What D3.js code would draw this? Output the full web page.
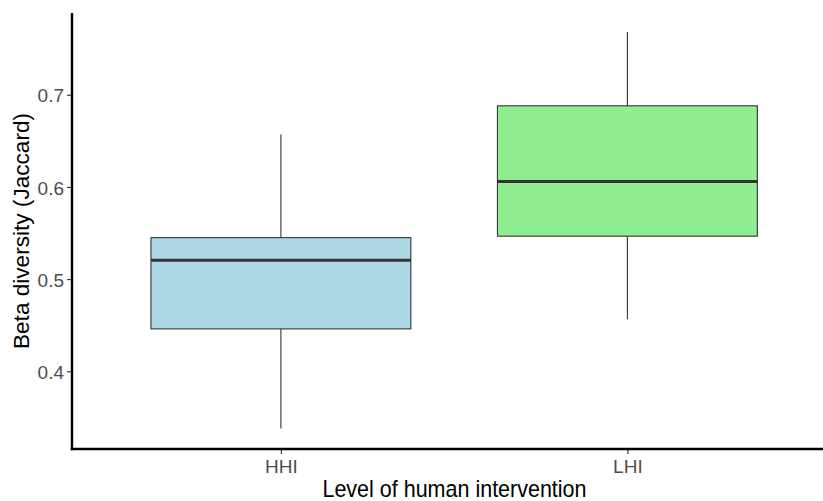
<!DOCTYPE html>
<html>
<head>
<meta charset="utf-8">
<script src="https://cdn.jsdelivr.net/npm/d3@7"></script>
<style>
  html, body { margin: 0; padding: 0; background: #fff; }
  svg { display: block; }
  text { font-family: "Liberation Sans", Arial, sans-serif; }
</style>
</head>
<body>
<svg id="chart" width="823" height="501"></svg>
<script>
// Data
const categories = ["HHI", "LHI"];
const whiskerLow = [0.338, 0.4565];
const q1 = [0.446, 0.5466];
const median = [0.5205, 0.606];
const q3 = [0.545, 0.688];
const whiskerHigh = [0.657, 0.768];
const fills = ["#ADD8E6", "#90EE90"];
const yTicks = [0.4, 0.5, 0.6, 0.7];

(function () {
const pLeft = 72, pTop = 13, pBottom = 449;
const scaleLeft = 73, scaleRight = 835.3;

const svg = d3.select("#chart");

const x = d3.scaleLinear().domain([0.4, categories.length + 0.6]).range([scaleLeft, scaleRight]);
const y = d3.scaleLinear().domain([0.3157, 0.7887]).range([pBottom, pTop]);
const unit = x(2) - x(1);
const boxW = 0.75 * unit;

const data = categories.map((c, i) => ({
  c, i, lo: whiskerLow[i], q1: q1[i], med: median[i], q3: q3[i], hi: whiskerHigh[i], fill: fills[i]
}));

const g = svg.append("g");
const groups = g.selectAll("g.box").data(data).enter().append("g").attr("class", "box");

// whiskers
groups.append("line")
  .attr("x1", d => x(d.i + 1)).attr("x2", d => x(d.i + 1))
  .attr("y1", d => y(d.hi)).attr("y2", d => y(d.q3))
  .attr("stroke", "#333333").attr("stroke-width", 1.1);
groups.append("line")
  .attr("x1", d => x(d.i + 1)).attr("x2", d => x(d.i + 1))
  .attr("y1", d => y(d.q1)).attr("y2", d => y(d.lo))
  .attr("stroke", "#333333").attr("stroke-width", 1.1);

// boxes
groups.append("rect")
  .attr("x", d => x(d.i + 1) - boxW / 2)
  .attr("width", boxW)
  .attr("y", d => y(d.q3))
  .attr("height", d => y(d.q1) - y(d.q3))
  .attr("fill", d => d.fill)
  .attr("stroke", "#333333").attr("stroke-width", 1.1);

// medians
groups.append("line")
  .attr("x1", d => x(d.i + 1) - boxW / 2).attr("x2", d => x(d.i + 1) + boxW / 2)
  .attr("y1", d => y(d.med)).attr("y2", d => y(d.med))
  .attr("stroke", "#333333").attr("stroke-width", 3);

// Y axis
const yAxis = d3.axisLeft(y).tickValues(yTicks).tickSize(5).tickPadding(3).tickFormat(d3.format(".1f"));
const yg = svg.append("g").attr("transform", `translate(${pLeft},0)`).call(yAxis);
yg.select(".domain").remove();
yg.selectAll(".tick line").attr("stroke", "#333333").attr("stroke-width", 1.1);
yg.selectAll(".tick text").attr("fill", "#4D4D4D").style("font-size", "19px")
  .attr("dy", "0.38em")
  .style("font-family", "'Liberation Sans', Arial, sans-serif");

// X axis
const xAxis = d3.axisBottom(x).tickValues(categories.map((c, i) => i + 1))
  .tickFormat((d) => categories[d - 1]).tickSize(5).tickPadding(6);
const xg = svg.append("g").attr("transform", `translate(0,${pBottom})`).call(xAxis);
xg.select(".domain").remove();
xg.selectAll(".tick line").attr("stroke", "#333333").attr("stroke-width", 1.1);
xg.selectAll(".tick text").attr("fill", "#4D4D4D").style("font-size", "19px")
  .style("font-family", "'Liberation Sans', Arial, sans-serif");

// axis lines
svg.append("line").attr("x1", pLeft).attr("x2", pLeft).attr("y1", pTop).attr("y2", pBottom + 1.2)
  .attr("stroke", "#000").attr("stroke-width", 2.4);
svg.append("line").attr("x1", pLeft - 1.2).attr("x2", 823).attr("y1", pBottom).attr("y2", pBottom)
  .attr("stroke", "#000").attr("stroke-width", 2.4);

// titles
svg.append("text")
  .attr("transform", `translate(454.5,497) scale(1,1.1)`)
  .attr("text-anchor", "middle").attr("fill", "#000").style("font-size", "21.5px")
  .text("Level of human intervention");
svg.append("text")
  .attr("transform", `translate(28.5,${(pTop + pBottom) / 2}) rotate(-90)`)
  .attr("text-anchor", "middle").attr("fill", "#000").style("font-size", "22.6px")
  .text("Beta diversity (Jaccard)");
})();
</script>
</body>
</html>
